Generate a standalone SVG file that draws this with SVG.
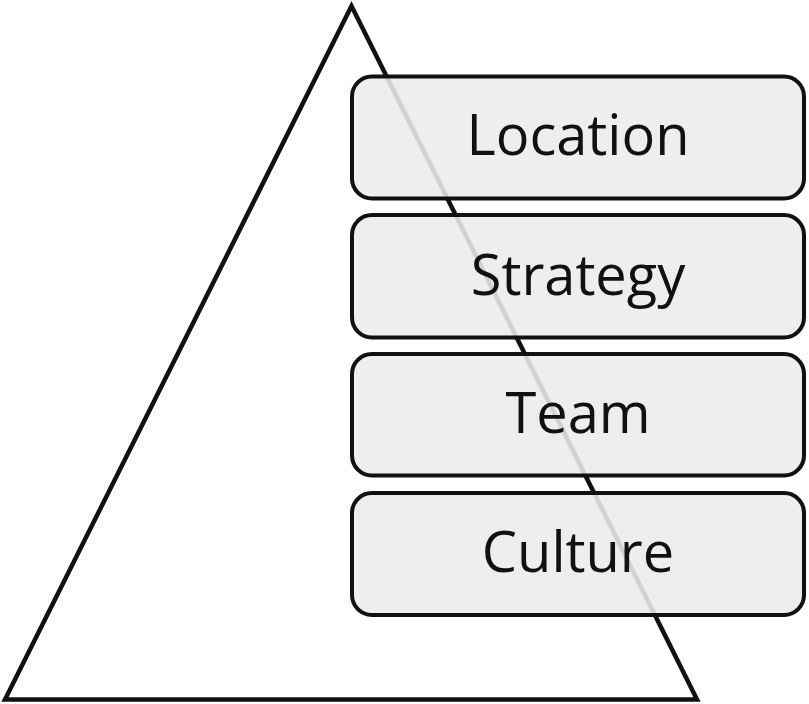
<svg xmlns="http://www.w3.org/2000/svg" width="809" height="704" viewBox="0 0 809 704">
<style>
.tri{fill:#ffffff;stroke:#111111;stroke-width:4.5;stroke-linejoin:miter}
.box{fill:#ececec;fill-opacity:0.88;stroke:#111111;stroke-width:4}
.lbl{font-family:"Open Sans","Noto Sans",sans-serif;font-size:56px;fill:#111111;text-anchor:middle}
</style>
<rect width="809" height="704" fill="#ffffff"/>
<g id="pyramid">
<polygon class="tri" points="351.5,6 5,699.5 697,699.5"/>
</g>
<g id="connectors"></g>
<g id="location">
<rect class="box" x="352" y="76.5" width="452" height="122" rx="20" ry="20"/>
<text class="lbl" x="578" y="155">Location</text>
</g>
<g id="strategy">
<rect class="box" x="352" y="215" width="452" height="122.5" rx="20" ry="20"/>
<text class="lbl" x="578" y="295">Strategy</text>
</g>
<g id="team">
<rect class="box" x="352" y="354" width="452" height="121.5" rx="20" ry="20"/>
<text class="lbl" x="578" y="433">Team</text>
</g>
<g id="culture">
<rect class="box" x="352" y="493" width="452" height="122" rx="20" ry="20"/>
<text class="lbl" x="578" y="572">Culture</text>
</g>
</svg>
